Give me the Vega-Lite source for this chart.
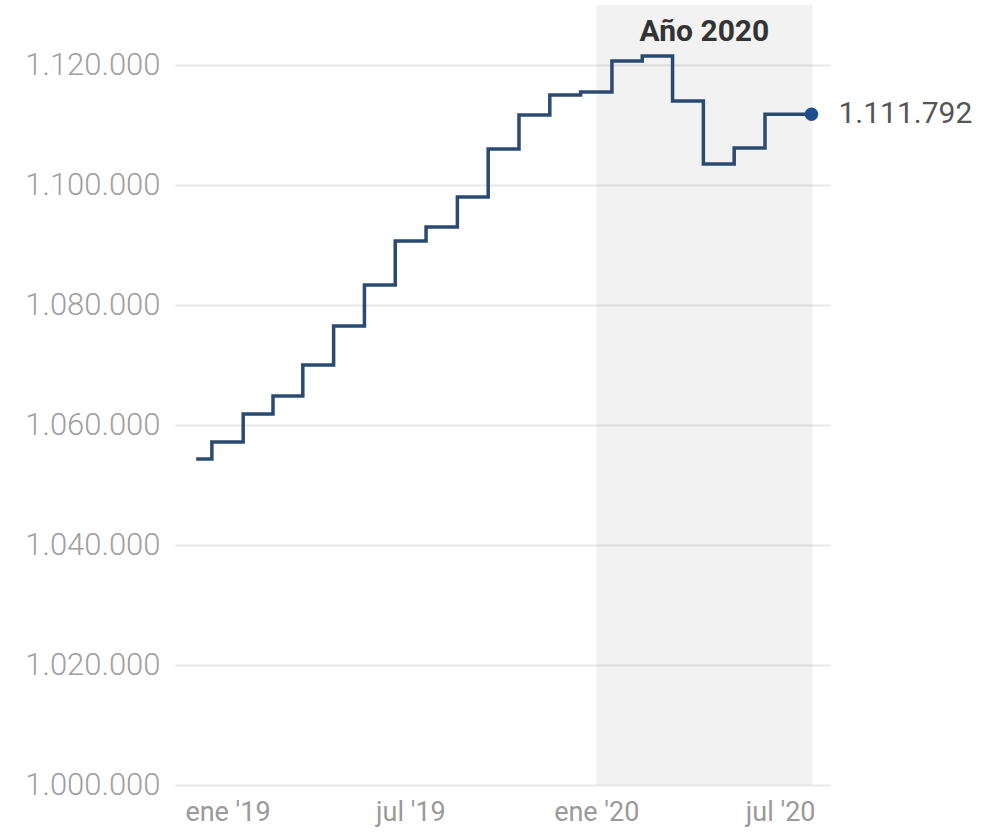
{
  "$schema": "https://vega.github.io/schema/vega-lite/v6.json",
  "width": 655,
  "height": 780,
  "autosize": "none",
  "padding": {"left": 175, "top": 5, "right": 153, "bottom": 50},
  "background": "white",
  "datasets": {
    "serie": [
      {"date": "2018-12-01", "value": 1054333},
      {"date": "2019-01-01", "value": 1057167},
      {"date": "2019-02-01", "value": 1061833},
      {"date": "2019-03-01", "value": 1064833},
      {"date": "2019-04-01", "value": 1070000},
      {"date": "2019-05-01", "value": 1076500},
      {"date": "2019-06-01", "value": 1083333},
      {"date": "2019-07-01", "value": 1090667},
      {"date": "2019-08-01", "value": 1093000},
      {"date": "2019-09-01", "value": 1098000},
      {"date": "2019-10-01", "value": 1106000},
      {"date": "2019-11-01", "value": 1111667},
      {"date": "2019-12-01", "value": 1115000},
      {"date": "2020-01-01", "value": 1115500},
      {"date": "2020-02-01", "value": 1120667},
      {"date": "2020-03-01", "value": 1121500},
      {"date": "2020-04-01", "value": 1114000},
      {"date": "2020-05-01", "value": 1103500},
      {"date": "2020-06-01", "value": 1106167},
      {"date": "2020-07-01", "value": 1111800},
      {"date": "2020-08-01", "value": 1111792}
    ],
    "shade": [
      {"start": "2020-01-01", "end": "2020-08-02", "label": "Año 2020", "mid": "2020-04-17", "labelValue": 1125500}
    ],
    "last": [
      {"date": "2020-08-01", "value": 1111792, "label": "1.111.792"}
    ]
  },
  "layer": [
    {
      "data": {"name": "shade"},
      "mark": {"type": "rect", "fill": "#000000", "opacity": 0.05},
      "encoding": {
        "x": {"field": "start", "type": "temporal"},
        "x2": {"field": "end"}
      }
    },
    {
      "data": {"name": "serie"},
      "mark": {"type": "line", "interpolate": "step", "color": "#2a4a72", "strokeWidth": 3.5},
      "encoding": {
        "x": {
          "field": "date",
          "type": "temporal",
          "scale": {
            "type": "utc",
            "domain": [
              {"year": 2018, "month": 11, "date": 10, "utc": true},
              {"year": 2020, "month": 8, "date": 19, "hours": 8, "utc": true}
            ]
          },
          "axis": {
            "title": null,
            "grid": false,
            "domain": false,
            "ticks": false,
            "tickSize": 0,
            "labelPadding": 14,
            "values": [
              {"year": 2019, "month": 1, "date": 1, "utc": true},
              {"year": 2019, "month": 7, "date": 1, "utc": true},
              {"year": 2020, "month": 1, "date": 1, "utc": true},
              {"year": 2020, "month": 7, "date": 1, "utc": true}
            ],
            "labelExpr": "(utcmonth(datum.value) == 0 ? 'ene' : 'jul') + \" '\" + utcFormat(datum.value, '%y')",
            "labelFont": "Roboto",
            "labelFontSize": 27,
            "labelColor": "#9a9a9a",
            "labelAlign": "center"
          }
        },
        "y": {
          "field": "value",
          "type": "quantitative",
          "scale": {"domain": [1000000, 1130000], "zero": false, "nice": false},
          "axis": {
            "title": null,
            "domain": false,
            "ticks": false,
            "tickSize": 0,
            "labelPadding": 15,
            "values": [1000000, 1020000, 1040000, 1060000, 1080000, 1100000, 1120000],
            "format": ",d",
            "grid": true,
            "gridColor": "#e8e8e8",
            "gridWidth": 2,
            "labelFont": "Roboto",
            "labelFontSize": 31,
            "labelFontWeight": 300,
            "labelColor": "#a0a0a0"
          }
        }
      }
    },
    {
      "data": {"name": "last"},
      "mark": {"type": "point", "filled": true, "size": 180, "color": "#1f4e8c", "opacity": 1},
      "encoding": {
        "x": {"field": "date", "type": "temporal"},
        "y": {"field": "value", "type": "quantitative"}
      }
    },
    {
      "data": {"name": "last"},
      "mark": {"type": "text", "align": "left", "baseline": "middle", "dx": 27, "font": "Roboto", "fontSize": 30, "color": "#555555"},
      "encoding": {
        "x": {"field": "date", "type": "temporal"},
        "y": {"field": "value", "type": "quantitative"},
        "text": {"field": "label"}
      }
    },
    {
      "data": {"name": "shade"},
      "mark": {"type": "text", "align": "center", "baseline": "middle", "font": "Roboto", "fontSize": 30, "fontWeight": "bold", "color": "#333333"},
      "encoding": {
        "x": {"field": "mid", "type": "temporal"},
        "y": {"field": "labelValue", "type": "quantitative"},
        "text": {"field": "label"}
      }
    }
  ],
  "config": {
    "view": {"stroke": null},
    "locale": {
      "number": {"decimal": ",", "thousands": ".", "grouping": [3], "currency": ["", " €"]}
    }
  }
}
